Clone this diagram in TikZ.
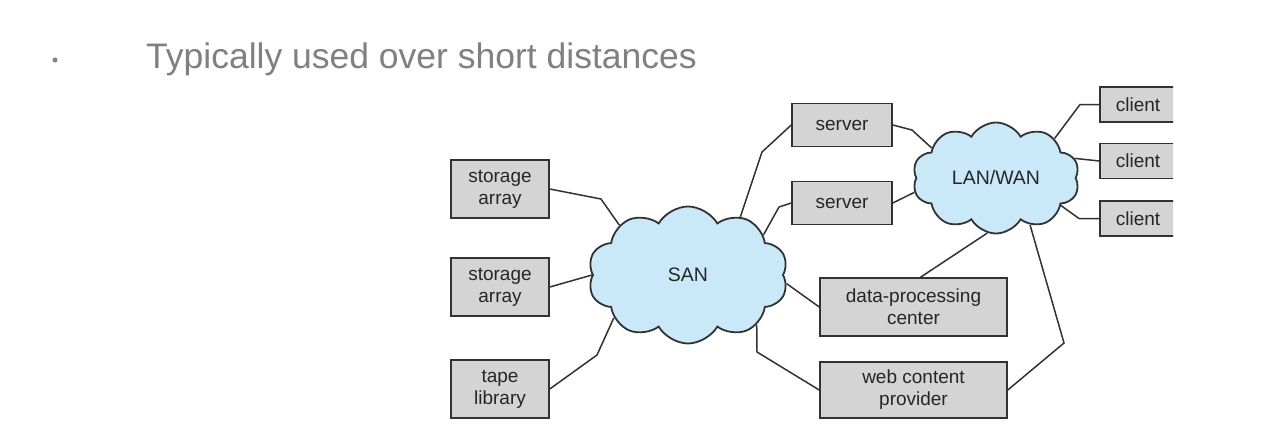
\documentclass[tikz,border=0pt]{standalone}
\usepackage{fontspec}
\setmainfont{Liberation Sans}
\usetikzlibrary{shapes.symbols}
\definecolor{cloudblue}{RGB}{202,233,248}
\definecolor{boxgray}{RGB}{212,212,212}
\definecolor{edgegray}{RGB}{50,50,50}
\definecolor{titlegray}{RGB}{128,128,128}
\begin{document}
\begin{tikzpicture}[x=1pt,y=-1pt,
  box/.style={draw=edgegray, line width=1.5pt, fill=boxgray, text=black!85,
    align=center, font=\fontsize{19}{22}\selectfont, inner sep=0pt},
  cloudnode/.style={cloud, cloud puffs=10, cloud puff arc=120, cloud ignores aspect,
    draw=edgegray, line width=1.8pt, fill=cloudblue, inner sep=0pt, text=black!85,
    font=\fontsize{19.5}{22}\selectfont},
  conn/.style={draw=edgegray, line width=1.5pt}]
\useasboundingbox (0,0) rectangle (1270,445);
\fill[white] (0,0) rectangle (1270,445);
% title
\node[circle, fill=titlegray, inner sep=0pt, minimum size=5pt] (bullet) at (55,60) {};
\node[anchor=base west, text=titlegray, font=\fontsize{35.5}{40}\selectfont, inner sep=0pt]
  (title) at (146,68) {Typically used over short distances};
% clouds
\node[cloudnode, minimum width=200, minimum height=137] (san) at (688,275) {SAN};
\node[cloudnode, minimum width=167, minimum height=111] (lan) at (996,178) {LAN/WAN};
% boxes
\node[box, minimum width=98, minimum height=58] (st1) at (500,189) {storage\\array};
\node[box, minimum width=98, minimum height=58] (st2) at (500,287) {storage\\array};
\node[box, minimum width=98, minimum height=58] (tape) at (500,389) {tape\\library};
\node[box, minimum width=100, minimum height=43] (srv1) at (842,125) {server};
\node[box, minimum width=100, minimum height=43] (srv2) at (842,203) {server};
\node[box, minimum width=187, minimum height=58] (dpc) at (913.5,307) {data-processing\\center};
\node[box, minimum width=187, minimum height=56] (web) at (913.5,390) {web content\\provider};
\begin{scope}
  \clip (1090,80) rectangle (1173,245);
  \node[box, minimum width=76, minimum height=35] (c1) at (1138,104.5) {client};
  \node[box, minimum width=76, minimum height=35] (c2) at (1138,161) {client};
  \node[box, minimum width=76, minimum height=35] (c3) at (1138,218.5) {client};
\end{scope}
% connectors SAN
\draw[conn] (st1.east) -- (601,199) -- (san.144);
\draw[conn] (st2.east) -- (san.180);
\draw[conn] (tape.east) -- (597,355) -- (san.210);
\draw[conn] (san.48) -- (762,152) -- (srv1.west);
\draw[conn] (san.28) -- (779,207) -- (srv2.west);
\draw[conn] (san.355) -- (dpc.west);
\draw[conn] (san.324) -- (757,352) -- (web.west);
% connectors LAN
\draw[conn] (srv1.east) -- (912,130) -- (lan.155);
\draw[conn] (srv2.east) -- (lan.190);
\draw[conn] (lan.34) -- (1080,104.5) -- (c1.west);
\draw[conn] (lan.14) -- (c2.west);
\draw[conn] (lan.337) -- (1079,218.5) -- (c3.west);
\draw[conn] (lan.261) -- ([xshift=7]dpc.north);
\draw[conn] (lan.306) -- (1064,343) -- (web.east);
\end{tikzpicture}
\end{document}
